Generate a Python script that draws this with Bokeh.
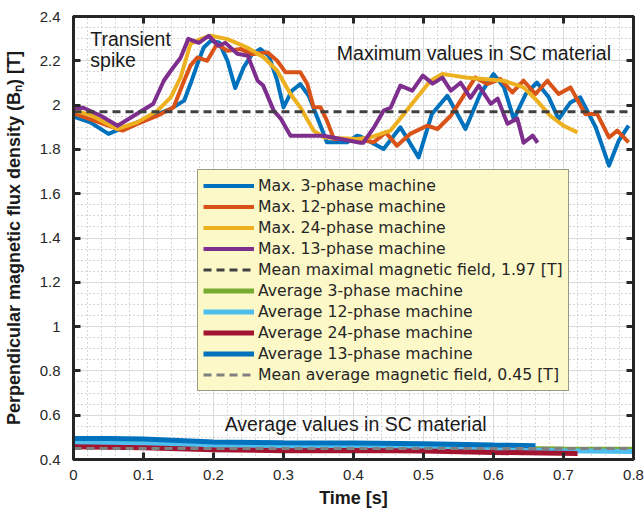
from bokeh.plotting import figure
from bokeh.models import FixedTicker, LinearAxis, ColumnDataSource, CustomJSTickFormatter
from bokeh.core.properties import value
from bokeh.embed import file_html
from bokeh.resources import INLINE

# ---------------- data ----------------
t_max3 = [0, 0.024, 0.050, 0.067, 0.115, 0.139, 0.158, 0.167, 0.177, 0.186, 0.196, 0.208, 0.220, 0.231,
          0.243, 0.255, 0.267, 0.279, 0.291, 0.300, 0.312, 0.324, 0.336, 0.350, 0.362, 0.391, 0.405,
          0.410, 0.443, 0.467, 0.493, 0.512, 0.534, 0.560, 0.581, 0.600, 0.615, 0.629, 0.646, 0.662,
          0.679, 0.693, 0.710, 0.724, 0.746, 0.765, 0.779, 0.793]
b_max3 = [1.948, 1.922, 1.870, 1.892, 1.952, 1.983, 2.020, 2.095, 2.185, 2.260, 2.290, 2.283, 2.200, 2.077,
          2.170, 2.230, 2.253, 2.223, 2.110, 1.990, 2.065, 2.095, 2.042, 1.930, 1.832, 1.832, 1.862,
          1.858, 1.802, 1.900, 1.764, 1.960, 2.042, 1.892, 2.050, 2.140, 2.080, 1.937, 2.050, 2.102,
          2.035, 1.937, 2.012, 2.035, 1.900, 1.727, 1.840, 1.907]

t_max12 = [0, 0.070, 0.091, 0.120, 0.143, 0.158, 0.167, 0.177, 0.191, 0.205, 0.220, 0.239, 0.255, 0.277,
           0.291, 0.303, 0.324, 0.334, 0.343, 0.353, 0.362, 0.372, 0.405, 0.429, 0.446, 0.462, 0.481,
           0.505, 0.520, 0.539, 0.553, 0.574, 0.591, 0.610, 0.627, 0.643, 0.660, 0.677, 0.693, 0.710,
           0.731, 0.748, 0.765, 0.777, 0.793]
b_max12 = [1.963, 1.885, 1.915, 1.952, 1.990, 2.110, 2.178, 2.215, 2.200, 2.276, 2.245, 2.253, 2.230, 2.238,
           2.200, 2.148, 2.148, 2.095, 1.990, 1.990, 1.930, 1.847, 1.847, 1.832, 1.877, 1.817, 1.870,
           1.907, 1.892, 1.952, 2.020, 2.125, 2.095, 2.118, 2.057, 2.110, 2.050, 2.110, 2.050, 2.080,
           1.960, 1.960, 1.854, 1.885, 1.832]

t_max24 = [0, 0.024, 0.062, 0.091, 0.120, 0.139, 0.153, 0.160, 0.167, 0.181, 0.196, 0.220, 0.248, 0.272,
           0.291, 0.310, 0.324, 0.343, 0.358, 0.405, 0.424, 0.453, 0.472, 0.491, 0.510, 0.527, 0.543,
           0.560, 0.586, 0.615, 0.643, 0.662, 0.681, 0.700, 0.720]
b_max24 = [1.975, 1.957, 1.892, 1.922, 1.975, 2.035, 2.125, 2.200, 2.276, 2.298, 2.313, 2.298, 2.260, 2.215,
           2.155, 2.050, 1.990, 1.885, 1.854, 1.847, 1.854, 1.885, 1.960, 2.035, 2.110, 2.140, 2.133,
           2.125, 2.118, 2.110, 2.080, 2.020, 1.952, 1.907, 1.877]

t_max13 = [0, 0.014, 0.039, 0.063, 0.114, 0.129, 0.139, 0.153, 0.164, 0.179, 0.193, 0.207, 0.217, 0.234,
           0.249, 0.263, 0.271, 0.286, 0.296, 0.310, 0.357, 0.410, 0.414, 0.429, 0.443, 0.453, 0.467,
           0.484, 0.499, 0.513, 0.527, 0.539, 0.553, 0.567, 0.579, 0.596, 0.606, 0.620, 0.634, 0.643,
           0.656, 0.663]
b_max13 = [1.987, 1.988, 1.952, 1.907, 2.006, 2.110, 2.155, 2.214, 2.299, 2.281, 2.313, 2.268, 2.281, 2.232,
           2.223, 2.110, 2.088, 1.975, 1.939, 1.862, 1.862, 1.830, 1.830, 1.898, 1.975, 1.988, 2.088,
           2.065, 2.133, 2.097, 2.124, 2.065, 2.101, 2.033, 2.088, 2.006, 2.029, 1.916, 1.939, 1.830,
           1.862, 1.830]

mean_max = 1.97
mean_avg = 0.45

t_avg3 = [0, 0.1, 0.2, 0.3, 0.4, 0.5, 0.6, 0.7, 0.8]
b_avg3 = [0.476, 0.472, 0.465, 0.461, 0.459, 0.455, 0.450, 0.447, 0.446]
t_avg12 = [0, 0.1, 0.2, 0.3, 0.4, 0.5, 0.6, 0.7, 0.8]
b_avg12 = [0.474, 0.471, 0.463, 0.459, 0.457, 0.452, 0.445, 0.440, 0.436]
t_avg24 = [0, 0.1, 0.2, 0.3, 0.4, 0.5, 0.6, 0.72]
b_avg24 = [0.458, 0.453, 0.444, 0.440, 0.441, 0.438, 0.432, 0.427]
t_avg13 = [0, 0.05, 0.1, 0.2, 0.3, 0.4, 0.5, 0.6, 0.66]
b_avg13 = [0.495, 0.495, 0.492, 0.479, 0.476, 0.475, 0.471, 0.465, 0.462]

x_ticks = [0, 0.1, 0.2, 0.3, 0.4, 0.5, 0.6, 0.7, 0.8]
x_tick_labels = ["0", "0.1", "0.2", "0.3", "0.4", "0.5", "0.6", "0.7", "0.8"]
y_ticks = [0.4, 0.6, 0.8, 1, 1.2, 1.4, 1.6, 1.8, 2, 2.2, 2.4]
y_tick_labels = ["0.4", "0.6", "0.8", "1", "1.2", "1.4", "1.6", "1.8", "2", "2.2", "2.4"]

notes_x = [0.024, 0.024, 0.572, 0.403]
notes_y = [2.30, 2.205, 2.235, 0.562]
notes_text = ["Transient", "spike", "Maximum values in SC material", "Average values in SC material"]
notes_align = ["left", "left", "center", "center"]

# ---------------- figure ----------------
x_minor = [round(i * 0.02, 2) for i in range(41)]
y_minor = [round(0.4 + i * 0.05, 2) for i in range(41)]

p = figure(width=644, height=515, x_range=(0, 0.8), y_range=(0.4, 2.4),
           output_backend="svg", toolbar_location=None,
           min_border_left=73, min_border_right=11, min_border_top=16, min_border_bottom=56)
p.background_fill_color = "white"
p.border_fill_color = "white"
p.outline_line_color = "#262626"
p.outline_line_width = 3

xa = p.below[0]
ya = p.left[0]

xt = FixedTicker(ticks=x_ticks, minor_ticks=x_minor)
yt = FixedTicker(ticks=y_ticks, minor_ticks=y_minor)
xa.ticker = xt
ya.ticker = yt
p.xgrid.ticker = xt
p.ygrid.ticker = yt
xa.major_label_overrides = dict(zip(x_ticks, x_tick_labels))
ya.major_label_overrides = dict(zip(y_ticks, y_tick_labels))

blank = CustomJSTickFormatter(code="return ''")
top_ax = LinearAxis(ticker=xt, formatter=blank, major_label_standoff=0, major_label_text_font_size="1px")
right_ax = LinearAxis(ticker=yt, formatter=blank, major_label_standoff=0, major_label_text_font_size="1px")
p.add_layout(top_ax, "above")
p.add_layout(right_ax, "right")

for ax in [xa, ya, top_ax, right_ax]:
    ax.axis_line_color = "#262626"
    ax.axis_line_width = 3
    ax.major_tick_in = 7
    ax.major_tick_out = 0
    ax.major_tick_line_width = 3
    ax.major_tick_line_color = "#262626"
    ax.minor_tick_line_color = None
    ax.major_label_text_font = "Liberation Sans"
    ax.major_label_text_color = "#262626"
for ax in [xa, ya]:
    ax.major_label_text_font_size = "15px"
    ax.axis_label_text_font = "Liberation Sans"
    ax.axis_label_text_font_style = "bold"
    ax.axis_label_text_font_size = "18px"
    ax.axis_label_text_color = "#1a1a1a"
xa.major_label_standoff = 6
ya.major_label_standoff = 9
xa.axis_label = "Time [s]"
xa.axis_label_standoff = 5
ya.axis_label = "Perpendicular magnetic flux density (B\u2099) [T]"
ya.axis_label_standoff = 13

for g in [p.xgrid[0], p.ygrid[0]]:
    g.grid_line_color = "#DADADA"
    g.grid_line_width = 1
    g.minor_grid_line_color = "#B0B0B0"
    g.minor_grid_line_dash = "1 3"
    g.minor_grid_line_width = 1

BLUE, ORANGE, YELLOW, PURPLE = "#0072BD", "#D95319", "#EDB120", "#7E2F8E"
GREEN, LBLUE, DRED = "#77AC30", "#4DBEEE", "#A2142F"

lw = 4
p.line(t_max3, b_max3, color=BLUE, line_width=lw, line_join="round", legend_label="Max. 3-phase machine")
p.line(t_max12, b_max12, color=ORANGE, line_width=lw, line_join="round", legend_label="Max. 12-phase machine")
p.line(t_max24, b_max24, color=YELLOW, line_width=lw, line_join="round", legend_label="Max. 24-phase machine")
p.line(t_max13, b_max13, color=PURPLE, line_width=lw, line_join="round", legend_label="Max. 13-phase machine")
p.line([0, 0.8], [mean_max, mean_max], color="#404040", line_width=3, line_dash="8 5",
       legend_label="Mean maximal magnetic field, 1.97 [T]")
alw = 5
p.line(t_avg3, b_avg3, color=GREEN, line_width=alw, legend_label="Average 3-phase machine")
p.line(t_avg12, b_avg12, color=LBLUE, line_width=alw, legend_label="Average 12-phase machine")
p.line(t_avg24, b_avg24, color=DRED, line_width=alw, legend_label="Average 24-phase machine")
p.line(t_avg13, b_avg13, color=BLUE, line_width=alw, legend_label="Average 13-phase machine")
p.line([0, 0.8], [mean_avg, mean_avg], color="#808080", line_width=3, line_dash="8 5",
       legend_label="Mean average magnetic field, 0.45 [T]")

src = ColumnDataSource(dict(x=notes_x, y=notes_y, text=notes_text, align=notes_align))
p.text(x="x", y="y", text="text", text_align="align", source=src, text_baseline="middle",
       text_font=value("Liberation Sans"), text_font_size="19.5px", text_color="#1a1a1a")

lg = p.legend[0]
lg.location = (124, 68)
lg.background_fill_color = "#FCF8C8"
lg.background_fill_alpha = 1
lg.border_line_color = "#3C3C3C"
lg.border_line_width = 1
lg.label_text_font = "DejaVu Sans"
lg.label_text_font_size = "15.7px"
lg.label_text_color = "#262626"
lg.glyph_width = 51
lg.glyph_height = 21
lg.label_height = 21
lg.spacing = 0
lg.padding = 5
lg.margin = 0
lg.label_standoff = 4

open("out.html", "w").write(file_html(p, INLINE))
